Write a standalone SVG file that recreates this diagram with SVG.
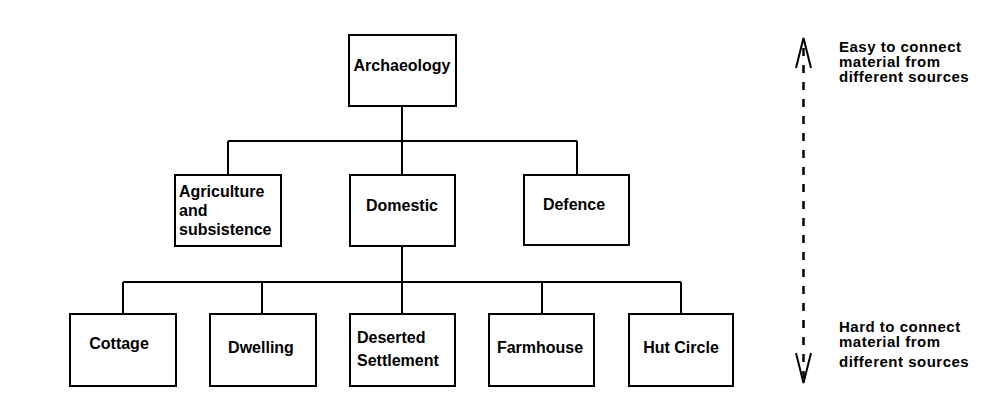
<svg xmlns="http://www.w3.org/2000/svg" width="1000" height="420" viewBox="0 0 1000 420">
<style>
.box{fill:#fff;stroke:#000;stroke-width:2}
.t{font-family:"Liberation Sans",Arial,sans-serif;font-weight:bold;font-size:16px;fill:#000}
.c{text-anchor:middle}
.r{font-family:"Liberation Sans",Arial,sans-serif;font-weight:bold;font-size:15px;letter-spacing:0.5px;fill:#000}
.ln{fill:none;stroke:#000;stroke-width:2}
</style>
<rect width="1000" height="420" fill="#fff"/>
<g id="connectors">
<path class="ln" d="M402 106V141M228 141H577M228 141V175M402 141V175M577 141V175"/>
<path class="ln" d="M402 246V282M123 282H681M123 282V314M262 282V314M402 282V314M542 282V314M681 282V314"/>
</g>
<g id="archaeology"><rect class="box" x="349" y="35" width="107" height="71"/><text class="t c" x="402" y="71">Archaeology</text></g>
<g id="agriculture"><rect class="box" x="175" y="175" width="106" height="71"/><text class="t" x="179" y="197">Agriculture</text><text class="t" x="179" y="216">and</text><text class="t" x="179" y="235">subsistence</text></g>
<g id="domestic"><rect class="box" x="350" y="175" width="105" height="71"/><text class="t c" x="402" y="211">Domestic</text></g>
<g id="defence"><rect class="box" x="524" y="175" width="105" height="70"/><text class="t c" x="574" y="210">Defence</text></g>
<g id="cottage"><rect class="box" x="70" y="314" width="106" height="72"/><text class="t c" x="119" y="349">Cottage</text></g>
<g id="dwelling"><rect class="box" x="210" y="314" width="106" height="72"/><text class="t c" x="261" y="353">Dwelling</text></g>
<g id="deserted"><rect class="box" x="350" y="314" width="105" height="72"/><text class="t" x="357" y="343">Deserted</text><text class="t" x="357" y="366">Settlement</text></g>
<g id="farmhouse"><rect class="box" x="489" y="314" width="105" height="72"/><text class="t c" x="540" y="353">Farmhouse</text></g>
<g id="hutcircle"><rect class="box" x="629" y="314" width="104" height="72"/><text class="t c" x="681" y="353">Hut Circle</text></g>
<g id="scale">
<line x1="803.5" y1="48" x2="803.5" y2="378" stroke="#000" stroke-width="2.5" stroke-dasharray="8 9"/>
<polyline class="ln" points="796,68 803.5,38 811,68" stroke-width="2.5"/>
<polyline class="ln" points="796,353 803.5,383 811,353" stroke-width="2.5"/>
<text class="r" x="839" y="52">Easy to connect</text>
<text class="r" x="839" y="67">material from</text>
<text class="r" x="839" y="82">different sources</text>
<text class="r" x="839" y="332">Hard to connect</text>
<text class="r" x="839" y="347">material from</text>
<text class="r" x="839" y="367">different sources</text>
</g>
</svg>
